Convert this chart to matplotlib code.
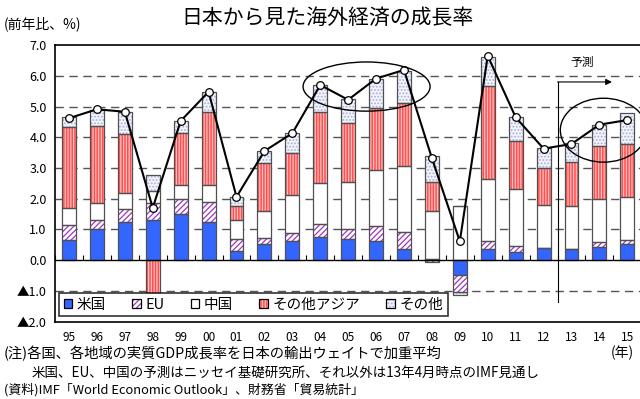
import matplotlib
matplotlib.use("Agg")
import matplotlib.pyplot as plt
import numpy as np
from matplotlib.patches import Ellipse, Patch
from matplotlib.legend_handler import HandlerTuple

plt.rcParams['font.family'] = ['Noto Sans CJK JP', 'DejaVu Sans']
plt.rcParams['hatch.linewidth'] = 0.9

years = ["95", "96", "97", "98", "99", "00", "01", "02", "03", "04", "05",
         "06", "07", "08", "09", "10", "11", "12", "13", "14", "15"]
us = [0.67, 1.01, 1.24, 1.32, 1.49, 1.23, 0.31, 0.51, 0.62, 0.76, 0.68,
      0.61, 0.37, 0.04, -0.49, 0.36, 0.27, 0.38, 0.35, 0.43, 0.54]
eu = [0.49, 0.31, 0.44, 0.55, 0.51, 0.65, 0.37, 0.21, 0.25, 0.43, 0.34,
      0.51, 0.53, -0.05, -0.54, 0.25, 0.19, 0.02, 0.02, 0.15, 0.13]
china = [0.54, 0.55, 0.49, 0.37, 0.44, 0.55, 0.64, 0.87, 1.24, 1.32, 1.53,
         1.83, 2.16, 1.57, 1.76, 2.02, 1.84, 1.40, 1.40, 1.41, 1.40]
other_asia = [2.64, 2.51, 1.95, -1.08, 1.69, 2.39, 0.45, 1.58, 1.38, 2.30, 1.90,
              1.99, 2.06, 0.92, 0.0, 3.04, 1.59, 1.20, 1.43, 1.71, 1.72]
others = [0.31, 0.51, 0.70, 0.53, 0.40, 0.66, 0.29, 0.38, 0.64, 0.89, 0.78,
          0.96, 1.05, 0.86, -0.11, 0.95, 0.76, 0.64, 0.60, 0.70, 1.00]
total = [4.62, 4.91, 4.83, 1.70, 4.53, 5.48, 2.06, 3.55, 4.13, 5.70, 5.22,
         5.91, 6.19, 3.32, 0.61, 6.65, 4.65, 3.63, 3.78, 4.41, 4.56]

series = [
    ("米国", us, dict(facecolor="#3366ff", hatch=None, hcol="#3366ff")),
    ("EU", eu, dict(facecolor="white", hatch="//////", hcol="#a035c0")),
    ("中国", china, dict(facecolor="white", hatch=None, hcol="white")),
    ("その他アジア", other_asia, dict(facecolor="#ff4f4f", hatch="||||||", hcol="#ffc0c0")),
    ("その他", others, dict(facecolor="#f2f3fb", hatch=".....", hcol="#a8b2d8")),
]

fig = plt.figure(figsize=(6.4, 3.99), dpi=100)
ax = fig.add_axes([0.086, 0.194, 0.916, 0.693])

x = np.arange(len(years))
pos = np.zeros(len(years))
neg = np.zeros(len(years))
handles = []
for name, vals, st in series:
    vals = np.array(vals)
    bottom = np.where(vals >= 0, pos, neg)
    ax.bar(x, vals, 0.5, bottom=bottom, color=st["facecolor"], edgecolor=st["hcol"],
           hatch=st["hatch"], linewidth=0, zorder=2)
    ax.bar(x, vals, 0.5, bottom=bottom, fill=False, edgecolor="#505050",
           linewidth=0.9, zorder=3)
    pos = pos + np.where(vals >= 0, vals, 0)
    neg = neg + np.where(vals < 0, vals, 0)
    fill = Patch(facecolor=st["facecolor"], edgecolor=st["hcol"], hatch=st["hatch"], linewidth=0)
    outline = Patch(fill=False, edgecolor="black", linewidth=0.9)
    handles.append((fill, outline))

ax.plot(x, total, color="black", lw=1.5, marker="o", markersize=5.5,
        markerfacecolor="white", markeredgecolor="black", markeredgewidth=0.9, zorder=5)

# grid and zero line
for g in [1, 2, 3, 4, 5, 6, -1]:
    ax.axhline(g, color="#555555", lw=1.0, linestyle=(0, (6, 4)), zorder=1)
ax.axhline(0, color="black", lw=1.0, zorder=4)
ax.vlines(np.arange(-0.5, len(years)), 0, 0.16, color="black", lw=0.8, zorder=4)

# highlights
ax.add_patch(Ellipse((10.66, 5.65), 4.55, 1.6, fill=False, edgecolor="black", lw=1.0, zorder=6))
ax.add_patch(Ellipse((19.15, 4.23), 3.1, 2.08, fill=False, edgecolor="black", lw=1.0, zorder=6))
ax.plot([17.5, 17.5], [-1.37, 5.8], color="black", lw=0.8, zorder=6)
ax.annotate("", xy=(19.45, 5.8), xytext=(17.5, 5.8),
            arrowprops=dict(arrowstyle="-|>", color="black", lw=0.8,
                            mutation_scale=9, shrinkA=0, shrinkB=0), zorder=6)
ax.text(18.4, 6.45, "予測", fontsize=8.5, ha="center", va="center")

ax.set_xlim(-0.5, 20.5)
ax.set_ylim(-2, 7)
ax.set_yticks(np.arange(-2, 8))
ax.set_yticklabels(["▲2.0", "▲1.0", "0.0", "1.0", "2.0", "3.0", "4.0", "5.0", "6.0", "7.0"],
                   fontsize=9)
ax.set_xticks(x)
ax.set_xticklabels(years, fontsize=8.5)
ax.tick_params(axis="both", length=0)
ax.tick_params(axis="x", pad=7)
ax.tick_params(axis="y", pad=6)
for s in ["top", "left", "bottom"]:
    ax.spines[s].set_linewidth(1.2)
ax.spines["right"].set_visible(False)

leg = ax.legend(handles, [s[0] for s in series], ncol=5, loc="lower left",
                handler_map={tuple: HandlerTuple(ndivide=1, pad=0)},
                bbox_to_anchor=(0.002, 0.01), fontsize=10.5, frameon=True, fancybox=False,
                edgecolor="black", handlelength=0.6, handleheight=0.6, handletextpad=0.3,
                columnspacing=1.8, borderpad=0.3, borderaxespad=0.2)
leg.get_frame().set_linewidth(1.2)
leg.set_zorder(10)

fig.text(0.512, 0.955, "日本から見た海外経済の成長率", fontsize=15, ha="center", va="center")
fig.text(0.006, 0.94, "(前年比、%)", fontsize=10, ha="left", va="center")
fig.text(0.006, 0.115, "(注)各国、各地域の実質GDP成長率を日本の輸出ウェイトで加重平均",
         fontsize=10.3, ha="left", va="center")
fig.text(0.99, 0.115, "(年)", fontsize=10, ha="right", va="center")
fig.text(0.05, 0.066, "米国、EU、中国の予測はニッセイ基礎研究所、それ以外は13年4月時点のIMF見通し",
         fontsize=9.7, ha="left", va="center")
fig.text(0.006, 0.023, "(資料)IMF「World Economic Outlook」、財務省「貿易統計」",
         fontsize=9.3, ha="left", va="center")

fig.savefig("out.png", dpi=100)
